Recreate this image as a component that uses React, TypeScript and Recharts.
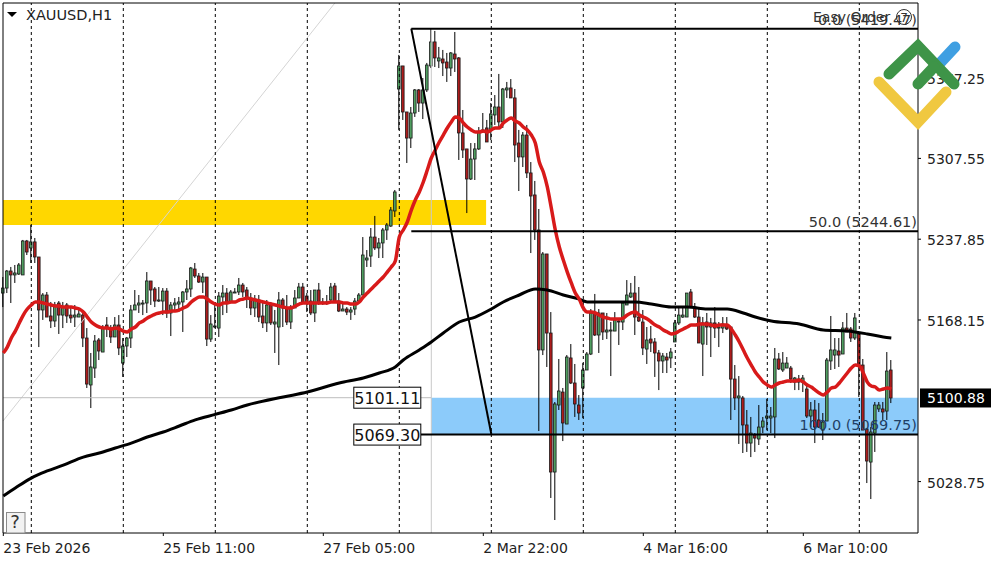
import React from "react";
import { ComposedChart, Bar, Line, XAxis, YAxis, ReferenceArea, ReferenceLine, ReferenceDot } from "recharts";

const opens = [
5191.4,5195.7,5210.4,5207.0,5207.8,5207.0,5236.3,5230.3,5235.5,5222.5,
5176.8,5189.7,5171.6,5167.3,5182.8,5172.4,5181.1,5172.4,5170.7,5170.7,
5172.4,5152.6,5112.1,5126.7,5150.9,5140.5,5163.8,5161.2,5153.5,5163.8,
5131.0,5145.7,5152.6,5176.8,5181.1,5181.9,5182.8,5201.8,5194.9,5184.5,
5184.5,5193.1,5174.2,5181.1,5181.9,5183.7,5192.3,5194.9,5212.1,5206.1,
5200.9,5205.2,5151.7,5162.1,5161.2,5188.0,5191.4,5183.7,5191.4,5192.3,
5198.3,5194.0,5187.1,5178.5,5185.4,5171.6,5165.6,5181.1,5164.7,5162.1,
5185.4,5178.5,5166.4,5178.5,5187.1,5196.6,5188.8,5184.5,5174.2,5194.0,
5182.8,5182.8,5185.4,5197.5,5184.5,5175.9,5177.6,5175.0,5177.6,5184.5,
5189.7,5219.9,5223.3,5239.7,5230.3,5234.6,5245.8,5249.2,5262.2,5367.4,
5387.3,5347.6,5325.1,5346.7,5366.6,5355.3,5366.6,5387.3,5408.0,5391.6,
5393.3,5390.7,5385.5,5397.6,5394.2,5329.5,5315.7,5289.8,5307.0,5315.7,
5332.1,5333.8,5332.1,5345.0,5351.9,5339.0,5366.6,5368.3,5359.7,5320.8,
5308.8,5327.7,5295.0,5276.0,5245.8,5142.3,5225.1,5156.9,5037.0,5094.8,
5106.0,5078.4,5135.4,5113.8,5094.8,5109.5,5125.0,5138.8,5174.2,5155.2,
5174.2,5157.8,5158.6,5158.6,5167.3,5166.4,5181.1,5188.0,5191.4,5170.7,
5166.4,5143.1,5151.7,5149.2,5139.7,5132.8,5136.2,5135.4,5149.2,5165.6,
5170.7,5170.7,5192.3,5179.3,5170.7,5147.4,5166.4,5162.1,5165.6,5161.2,
5161.2,5163.8,5162.1,5117.2,5100.9,5100.9,5077.6,5062.0,5068.9,5065.5,
5075.8,5083.6,5083.6,5084.5,5134.5,5125.0,5126.7,5126.7,5114.6,5117.2,
5114.6,5108.6,5085.3,5090.5,5081.9,5073.2,5081.0,5132.8,5137.9,5141.4,
5138.8,5161.2,5160.4,5152.6,5156.1,5129.3,5074.1,5045.6,5070.6,5091.4,
5091.4,5089.6,5125.0];

const highs = [
5205.2,5211.3,5213.9,5215.6,5217.3,5237.2,5237.2,5250.1,5238.9,5222.5,
5191.4,5192.3,5183.7,5183.7,5184.5,5183.7,5182.8,5179.3,5181.1,5176.8,
5176.8,5161.2,5139.7,5155.2,5152.6,5163.8,5170.7,5163.8,5170.7,5172.4,
5152.6,5153.5,5181.1,5194.0,5189.7,5185.4,5209.5,5201.8,5196.6,5196.6,
5195.7,5195.7,5183.7,5187.1,5188.0,5193.1,5202.6,5213.9,5217.3,5208.7,
5208.7,5205.2,5172.4,5181.1,5192.3,5198.3,5195.7,5194.0,5195.7,5204.4,
5200.1,5196.6,5191.4,5189.7,5189.7,5182.8,5185.4,5183.7,5176.8,5192.3,
5187.1,5189.7,5181.1,5194.0,5200.1,5200.1,5191.4,5194.0,5194.0,5200.1,
5187.1,5189.7,5200.1,5200.1,5191.4,5183.7,5179.3,5179.3,5187.1,5191.4,
5239.7,5228.5,5247.5,5257.9,5238.9,5247.5,5251.8,5265.6,5280.3,5396.8,
5387.3,5347.6,5351.9,5367.4,5367.4,5376.9,5389.9,5419.2,5417.5,5403.7,
5401.1,5398.5,5399.3,5416.6,5395.0,5349.3,5315.7,5320.8,5320.8,5334.6,
5346.7,5340.7,5355.3,5362.2,5380.4,5368.3,5373.5,5376.0,5367.4,5332.1,
5330.3,5336.4,5304.4,5288.1,5263.9,5226.8,5225.1,5175.0,5097.4,5134.5,
5109.5,5137.9,5147.4,5130.2,5103.4,5131.0,5140.5,5177.6,5190.6,5177.6,
5174.2,5174.2,5166.4,5175.0,5168.2,5183.7,5202.6,5200.1,5206.1,5196.6,
5176.8,5162.1,5163.0,5152.6,5142.3,5139.7,5139.7,5144.0,5168.2,5178.5,
5179.3,5191.4,5194.9,5182.8,5177.6,5170.7,5174.2,5169.9,5179.3,5166.4,
5170.7,5170.7,5162.1,5129.3,5119.8,5102.6,5090.5,5084.5,5070.6,5094.8,
5084.5,5100.0,5093.1,5144.0,5139.7,5140.5,5136.2,5128.5,5119.0,5120.7,
5120.7,5112.1,5097.4,5099.1,5096.5,5087.9,5135.4,5171.6,5152.6,5152.6,
5166.4,5174.2,5162.1,5174.2,5156.1,5134.5,5075.0,5075.8,5097.4,5097.4,
5097.4,5140.5,5133.6];

const lows = [
5179.3,5191.4,5182.8,5200.1,5207.0,5207.0,5224.2,5217.3,5217.3,5144.8,
5168.2,5170.7,5161.2,5162.1,5156.1,5161.2,5165.6,5165.6,5162.1,5170.7,
5144.8,5109.5,5092.2,5118.1,5133.6,5140.5,5153.5,5148.3,5153.5,5137.9,
5119.0,5136.2,5144.0,5176.8,5174.2,5172.4,5174.2,5181.1,5179.3,5183.7,
5172.4,5169.9,5154.3,5175.0,5175.0,5157.8,5185.4,5188.0,5204.4,5200.1,
5191.4,5145.7,5149.2,5161.2,5153.5,5172.4,5174.2,5183.7,5191.4,5189.7,
5188.0,5178.5,5172.4,5170.7,5166.4,5161.2,5157.8,5163.8,5139.7,5129.3,
5162.1,5163.8,5160.4,5178.5,5187.1,5182.8,5175.0,5172.4,5166.4,5181.1,
5181.1,5181.1,5183.7,5182.8,5175.0,5175.9,5172.4,5168.2,5172.4,5183.7,
5189.7,5213.9,5213.9,5228.5,5221.6,5221.6,5237.2,5248.4,5257.0,5332.1,
5340.7,5303.6,5316.5,5343.3,5347.6,5341.5,5364.8,5385.5,5386.4,5385.5,
5378.6,5373.5,5378.6,5382.1,5306.2,5307.9,5260.4,5288.9,5288.9,5314.8,
5330.3,5321.7,5323.4,5336.4,5333.8,5333.8,5359.7,5359.7,5304.4,5279.4,
5300.1,5290.6,5225.9,5237.2,5072.4,5137.9,5127.6,5014.6,4995.6,5090.5,
5063.7,5078.4,5112.9,5084.5,5081.9,5083.6,5125.0,5137.9,5154.3,5139.7,
5150.9,5151.7,5119.8,5158.6,5146.6,5159.5,5181.1,5187.1,5155.2,5166.4,
5137.9,5130.2,5140.5,5119.0,5107.7,5122.4,5122.4,5126.7,5149.2,5163.8,
5169.9,5170.7,5179.3,5169.9,5148.3,5119.8,5146.6,5136.2,5152.6,5144.8,
5156.9,5159.5,5081.9,5090.5,5061.2,5053.4,5054.3,5049.9,5054.3,5060.3,
5070.6,5073.2,5070.6,5066.3,5125.0,5123.3,5126.7,5113.8,5107.7,5107.7,
5106.0,5083.6,5075.8,5062.0,5075.0,5064.6,5081.0,5125.0,5125.9,5127.6,
5138.8,5157.8,5149.2,5150.9,5101.7,5073.2,5027.5,5013.7,5054.3,5088.8,
5081.9,5081.9,5096.5];

const closes = [
5195.7,5210.4,5207.0,5208.7,5215.6,5236.3,5226.8,5235.5,5222.5,5176.8,
5189.7,5170.7,5167.3,5181.1,5172.4,5179.3,5171.6,5169.9,5172.4,5173.3,
5152.6,5112.9,5127.6,5150.0,5141.4,5161.2,5161.2,5153.5,5163.8,5144.0,
5145.7,5152.6,5176.8,5181.1,5182.8,5182.8,5201.8,5194.0,5184.5,5185.4,
5193.1,5174.2,5181.1,5182.8,5183.7,5192.3,5194.9,5213.0,5206.1,5200.9,
5205.2,5151.7,5164.7,5163.0,5188.8,5191.4,5182.8,5192.3,5192.3,5198.3,
5192.3,5187.1,5178.5,5186.2,5170.7,5165.6,5181.1,5165.6,5166.4,5185.4,
5178.5,5166.4,5179.3,5187.1,5196.6,5183.7,5182.8,5174.2,5194.0,5182.8,
5183.7,5183.7,5196.6,5183.7,5175.9,5177.6,5175.0,5176.8,5184.5,5189.7,
5224.2,5221.6,5239.7,5230.3,5234.6,5245.8,5250.1,5263.0,5278.6,5387.3,
5347.6,5325.1,5346.7,5366.6,5355.3,5366.6,5388.1,5408.0,5394.2,5394.2,
5389.9,5385.5,5398.5,5393.3,5329.5,5314.8,5289.8,5307.0,5315.7,5330.3,
5330.3,5321.7,5345.9,5351.9,5339.0,5367.4,5368.3,5359.7,5319.1,5308.8,
5327.7,5295.0,5275.1,5245.8,5142.3,5225.1,5156.9,5037.0,5095.7,5106.9,
5079.3,5136.2,5113.8,5095.7,5087.9,5125.0,5138.8,5174.2,5155.2,5174.2,
5157.8,5159.5,5159.5,5168.2,5166.4,5182.8,5189.7,5191.4,5170.7,5167.3,
5144.0,5150.9,5148.3,5139.7,5132.8,5137.1,5133.6,5140.5,5165.6,5172.4,
5172.4,5191.4,5179.3,5170.7,5148.3,5165.6,5162.1,5165.6,5161.2,5162.1,
5164.7,5160.4,5117.2,5100.9,5102.6,5077.6,5062.0,5070.6,5066.3,5075.8,
5081.0,5085.3,5085.3,5134.5,5125.9,5131.0,5131.0,5117.2,5118.1,5114.6,
5118.1,5085.3,5090.5,5075.8,5075.8,5080.1,5133.6,5142.3,5142.3,5137.9,
5161.2,5157.8,5152.6,5169.9,5129.3,5073.2,5046.5,5071.5,5094.8,5094.8,
5088.8,5124.1,5100.88];

const fastMA = [
5139.7,5144.8,5152.6,5158.6,5165.6,5172.4,5177.6,5181.1,5183.7,5183.7,5182.8,5181.9,5181.1,5180.2,5180.2,5179.3,5179.3,5179.3,5178.5,5177.6,
5175.0,5170.7,5166.4,5163.8,5162.1,5161.2,5161.2,5160.4,5161.2,5160.4,5158.6,5157.8,5160.4,5162.1,5165.6,5167.3,5169.9,5171.6,5173.3,5174.2,
5175.0,5175.0,5175.9,5175.9,5176.8,5178.5,5180.2,5183.7,5186.2,5188.0,5188.0,5186.2,5183.7,5181.9,5181.1,5182.8,5182.8,5183.7,5183.7,5185.4,5186.2,5187.1,
5186.2,5185.4,5184.5,5183.7,5182.8,5181.9,5181.1,5180.2,5179.3,5178.5,5178.5,5180.2,5181.9,5182.8,5182.8,5182.8,5182.8,5182.8,5182.8,5182.8,
5183.7,5183.7,5183.7,5182.8,5182.8,5181.9,5181.9,5183.7,5188.0,5191.4,5194.9,5198.3,5201.8,5205.2,5209.5,5213.9,5219.0,
5239.7,5245.8,5252.7,5263.0,5271.7,5278.6,5287.2,5297.5,5307.9,5314.8,5321.7,5327.7,5333.8,5339.0,5343.3,5342.4,5338.1,5334.6,5332.1,5330.3,5330.3,5331.2,5330.3,5332.1,5333.8,5333.8,
5338.1,5340.7,5342.4,5339.8,5338.1,5334.6,5332.1,5327.7,5320.8,5304.4,5295.8,5282.9,5264.8,5245.8,5231.1,5219.9,5209.5,5200.1,5191.4,5186.2,
5178.5,5175.0,5175.0,5174.2,5172.4,5170.7,5169.9,5169.0,5169.0,5169.0,5169.9,5172.4,5174.2,5175.0,5172.4,5170.7,5169.0,5166.4,5163.8,5162.1,5159.5,5157.8,5156.1,5156.9,5158.6,5160.4,5162.1,5163.8,5163.8,5164.7,5164.7,5164.7,5163.8,5163.0,5163.8,5163.8,5163.8,
5160.4,5155.2,5149.2,5142.3,5135.4,5129.3,5123.3,5119.0,5114.6,5112.1,5110.3,5112.1,5113.8,5114.6,5115.5,5115.5,5115.5,5116.4,5114.6,5112.1,5110.3,5107.7,5105.1,5103.4,5106.0,5109.5,5110.3,5113.8,5118.1,5122.4,5126.7,5129.3,5128.5,5122.4,5114.6,5111.2,5110.3,5107.7,5108.6,5109.5,5108.6];

const slowMABars = [0,3,7,11,15,20,24,28,32,36,40,44,48,53,57,61,70,76,84,90,94,98,100,104,107,110,114,118,122,125,129,133,136,140,144,146,150,154,158,162,167,171,176,181,185,188,192,199,205,211,216,220,222];
const slowMAValues = [5016.3,5023.2,5031.8,5037.9,5043.0,5049.9,5053.4,5057.7,5062.0,5067.2,5071.5,5076.7,5082.0,5086.7,5090.5,5094.8,5101.7,5106.0,5113.8,5118.1,5122.4,5127.6,5133.6,5142.3,5149.2,5156.9,5166.4,5170.7,5177.6,5183.7,5189.7,5194.9,5194.0,5189.7,5186.2,5183.7,5183.7,5183.7,5183.7,5181.9,5179.3,5179.3,5177.6,5177.6,5174.2,5170.7,5167.3,5164.7,5159.5,5158.6,5156.1,5153.5,5152.6];

const xTickBars = [0,40,80,120,160,200];
const xTickLabels = ["23 Feb 2026","25 Feb 11:00","27 Feb 05:00","2 Mar 22:00","4 Mar 16:00","6 Mar 10:00"];
const dayBreakBars = [7,30,53,76,99,122,145,168,191,214];
const CURRENT_PRICE = 5100.88;
const priceTicks = [5028.75,CURRENT_PRICE,5168.15,5237.85,5307.55,5377.25];
const X_DOMAIN = [-0.075,228.675];
const Y_DOMAIN = [4984.4,5441.6];

const FONT = "'DejaVu Sans', sans-serif";
const TEXT = "#222";

const rows = opens.map((open,i)=>{
  const k = slowMABars.indexOf(i);
  return {bar:i,open,high:highs[i],low:lows[i],close:closes[i],range:[lows[i],highs[i]],fast:fastMA[i],slow:k>=0?slowMAValues[k]:null};
});

function Candle(props:any){
  const {x,y,width,height,payload} = props;
  const {open,high,low,close} = payload;
  const cx = x+width/2;
  const unit = height/(high-low);
  const top = y+(high-Math.max(open,close))*unit;
  const bodyH = Math.max(Math.abs(open-close)*unit,1);
  const up = close>=open;
  return <g>
    <line x1={cx} x2={cx} y1={y} y2={y+height} stroke="#000" strokeWidth={1}/>
    <rect x={cx-1.3} y={top} width={2.6} height={bodyH} fill={up?"#4f9e60":"#ad1c1c"} stroke="#1a1a1a" strokeWidth={0.8}/>
  </g>;
}

function XTick(props:any){
  const {x,payload} = props;
  const label = xTickLabels[xTickBars.indexOf(payload.value)];
  return <g>
    <line x1={x} x2={x} y1={533} y2={536} stroke="#000"/>
    <text x={x} y={553} fontFamily={FONT} fontSize={14} fill={TEXT} textAnchor="start">{label}</text>
  </g>;
}

function YTick(props:any){
  const {y,payload} = props;
  if(payload.value===CURRENT_PRICE){
    return <g>
      <rect x={920} y={y-9.5} width={71} height={19} fill="#000"/>
      <text x={927} y={y+5} fontFamily={FONT} fontSize={14} fill="#fff">{payload.value.toFixed(2)}</text>
    </g>;
  }
  return <g>
    <line x1={918} x2={921} y1={y} y2={y} stroke="#000"/>
    <text x={927} y={y+6} fontFamily={FONT} fontSize={14} fill={TEXT}>{payload.value.toFixed(2)}</text>
  </g>;
}

const priceBox = (label:string)=>(p:any)=><g>
  <rect x={p.cx-33.5} y={p.cy-10.5} width={67} height={21} fill="#fff" stroke="#000" strokeWidth={1}/>
  <text x={p.cx} y={p.cy+6} textAnchor="middle" fontFamily={FONT} fontSize={16} fill="#111">{label}</text>
</g>;

const fibText = (label:string,fill:string)=>(p:any)=>
  <text x={p.cx-1} y={p.cy-4} textAnchor="end" fontFamily={FONT} fontSize={14.5} fill={fill}>{label}</text>;

export default function App(){
  return <div style={{position:"absolute",left:0,top:0,width:1000,height:562,background:"#fff",overflow:"hidden"}}>
    <ComposedChart width={1000} height={562} data={rows} margin={{top:3,left:3,right:0,bottom:0}}>
      <XAxis dataKey="bar" type="number" domain={X_DOMAIN} ticks={xTickBars} interval={0} height={29} tick={<XTick/>} tickLine={false} axisLine={{stroke:"#000"}}/>
      <YAxis orientation="right" type="number" domain={Y_DOMAIN} ticks={priceTicks} interval={0} width={82} tick={<YTick/>} tickLine={false} axisLine={{stroke:"#000"}}/>

      <ReferenceArea x1={X_DOMAIN[0]} x2={120.7} y1={5250.1} y2={5271.7} fill="#ffd700" fillOpacity={1} stroke="none"/>
      <ReferenceArea x1={107} x2={X_DOMAIN[1]} y1={5069.3} y2={5101.11} fill="#8ccbfa" fillOpacity={1} stroke="none"/>
      <ReferenceLine segment={[{x:X_DOMAIN[0],y:5081.0},{x:82.9,y:Y_DOMAIN[1]}]} stroke="#d4d4d4" strokeWidth={1}/>
      <ReferenceLine segment={[{x:X_DOMAIN[0],y:5101.11},{x:107,y:5101.11}]} stroke="#bdbdbd" strokeWidth={1}/>
      <ReferenceLine segment={[{x:107,y:5419.47},{x:107,y:Y_DOMAIN[0]}]} stroke="#c8c8c8" strokeWidth={1}/>
      {dayBreakBars.map(b=><ReferenceLine key={b} x={b} stroke="#000" strokeWidth={1} strokeDasharray="3 3"/>)}
      <ReferenceLine x={X_DOMAIN[0]} stroke="#000" strokeWidth={1}/>
      <ReferenceLine y={Y_DOMAIN[1]} stroke="#000" strokeWidth={1}/>

      <Bar dataKey="range" barSize={3} shape={<Candle/>} isAnimationActive={false}/>
      <Line dataKey="slow" stroke="#000" strokeWidth={3} dot={false} connectNulls isAnimationActive={false} type="monotone"/>
      <Line dataKey="fast" stroke="#d81a1a" strokeWidth={3.5} dot={false} isAnimationActive={false} type="monotone"/>

      <ReferenceLine segment={[{x:102,y:5419.47},{x:X_DOMAIN[1],y:5419.47}]} stroke="#000" strokeWidth={2}/>
      <ReferenceLine segment={[{x:102,y:5244.61},{x:X_DOMAIN[1],y:5244.61}]} stroke="#000" strokeWidth={2}/>
      <ReferenceLine segment={[{x:104.4,y:5069.3},{x:X_DOMAIN[1],y:5069.3}]} stroke="#000" strokeWidth={2}/>
      <ReferenceLine segment={[{x:102,y:5419.47},{x:122,y:5069.75}]} stroke="#000" strokeWidth={2}/>

      <ReferenceDot x={X_DOMAIN[1]} y={5419.47} r={0} shape={fibText("0.0 (5419.47)","#333")}/>
      <ReferenceDot x={X_DOMAIN[1]} y={5244.61} r={0} shape={fibText("50.0 (5244.61)","#333")}/>
      <ReferenceDot x={X_DOMAIN[1]} y={5069.75} r={0} shape={fibText("100.0 (5069.75)","#1f3f66")}/>
      <ReferenceDot x={96} y={5101.11} r={0} shape={priceBox("5101.11")}/>
      <ReferenceDot x={96} y={5069.3} r={0} shape={priceBox("5069.30")}/>
    </ComposedChart>

    <svg width={1000} height={562} style={{position:"absolute",left:0,top:0,pointerEvents:"none"}}>
      <path d="M7 12 L17 12 L12 17 Z" fill="#000"/>
      <text x={26} y={20} fontFamily={FONT} fontSize={14.5} fill={TEXT}>XAUUSD,H1</text>
      <rect x={6.5} y={512.5} width={18.5} height={20.5} fill="#f2f2f2" stroke="#8a8a8a"/>
      <text x={15} y={528} textAnchor="middle" fontFamily={FONT} fontSize={18} fill="#333">?</text>
      <text x={813} y={22} fontFamily={FONT} fontSize={14} fill="#333">Easy Order</text>
      <circle cx={904} cy={17} r={7.5} fill="none" stroke="#333"/>
      <text x={904} y={22} textAnchor="middle" fontFamily={FONT} fontSize={12} fill="#333">7</text>
      <g fill="none" strokeWidth={11} strokeLinecap="round" strokeLinejoin="miter">
        <path d="M941 62 L955 47" stroke="#3f9fe2"/>
        <path d="M879 82 L918 122 L946 92" stroke="#f0c840"/>
        <path d="M889 74 L918 46 L954 84" stroke="#3e9448"/>
        <path d="M918 84 L934 67" stroke="#3e9448"/>
      </g>
    </svg>
  </div>;
}
